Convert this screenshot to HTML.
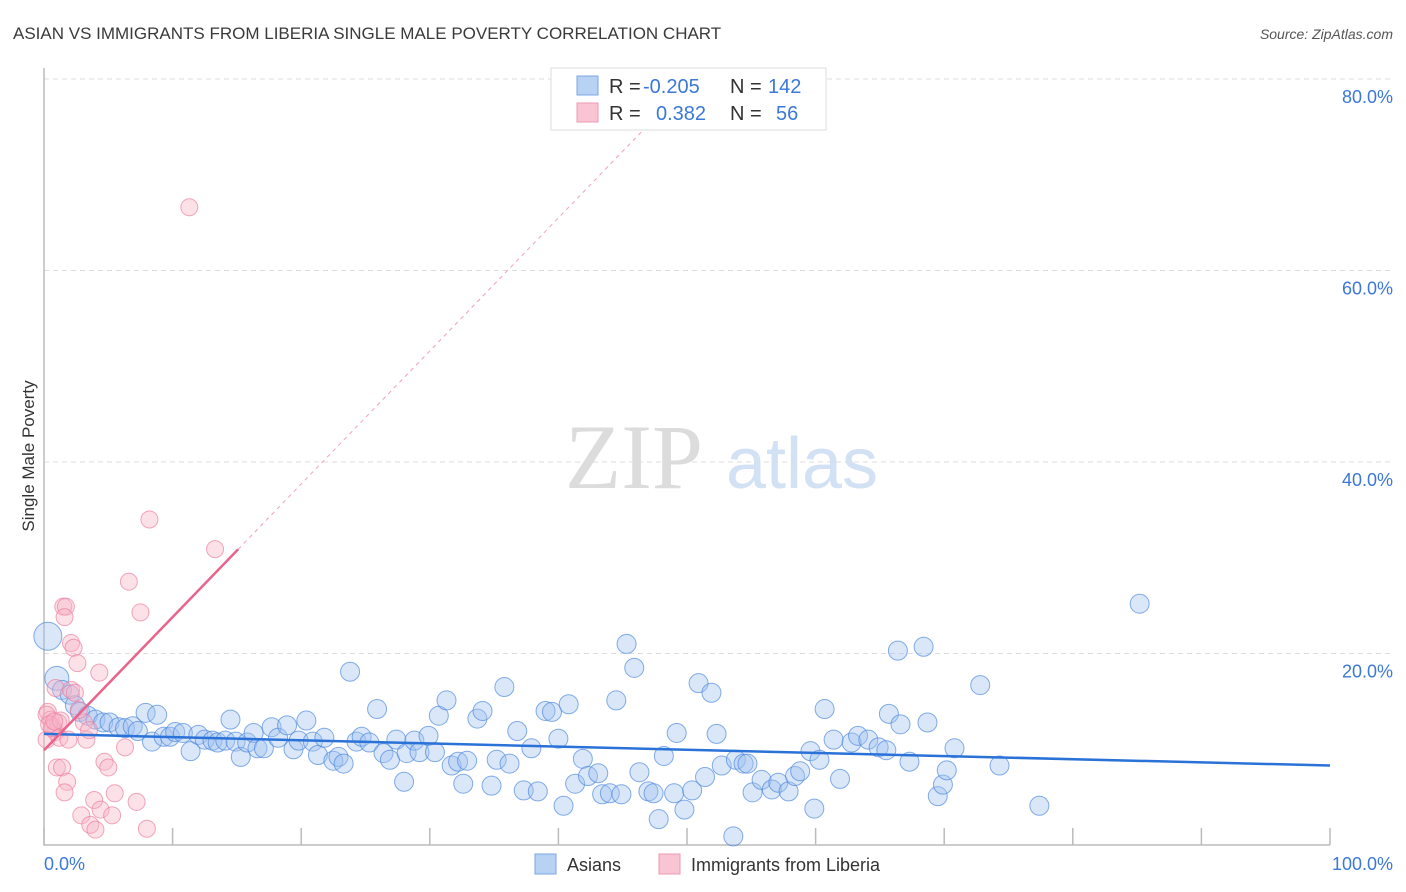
<!DOCTYPE html>
<html><head><meta charset="utf-8"><style>
body{margin:0;background:#fff;font-family:"Liberation Sans",sans-serif;}
svg{display:block}
</style></head><body>
<svg id="c" width="1406" height="892" xmlns="http://www.w3.org/2000/svg">
<text x="13" y="39" font-size="17" fill="#3a3a3a">ASIAN VS IMMIGRANTS FROM LIBERIA SINGLE MALE POVERTY CORRELATION CHART</text>
<text x="1393" y="39" font-size="14" font-style="italic" fill="#555" text-anchor="end">Source: ZipAtlas.com</text>
<g>
<text x="634" y="488" font-size="92" font-family="Liberation Serif,serif" fill="#dcdcdc" text-anchor="middle">ZIP</text>
<text x="802" y="488" font-size="72" fill="#d3e1f4" text-anchor="middle">atlas</text>
</g>
<g id="grid"></g>
<g id="axes"></g>
<g id="marks"></g>
<text transform="translate(34,456) rotate(-90)" font-size="17" fill="#333" text-anchor="middle">Single Male Poverty</text>
<g>
<rect x="551" y="68" width="275" height="62" fill="#fff" stroke="#ddd"/>
<rect x="577" y="76" width="21" height="19" fill="#b8d2f4" stroke="#7da6e6"/>
<rect x="577" y="103" width="21" height="19" fill="#f9c4d3" stroke="#ee9ab3"/>
<text font-size="20" fill="#333"><tspan x="609" y="93">R =</tspan><tspan x="609" y="120">R =</tspan><tspan x="730" y="93">N =</tspan><tspan x="730" y="120">N =</tspan></text>
<text font-size="20" fill="#3b78d8"><tspan x="643" y="93">-0.205</tspan><tspan x="656" y="120">0.382</tspan><tspan x="768" y="93">142</tspan><tspan x="776" y="120">56</tspan></text>
</g>
<g>
<rect x="535" y="854" width="21" height="20" fill="#b8d2f4" stroke="#7da6e6"/>
<text x="567" y="871" font-size="18" fill="#333">Asians</text>
<rect x="659" y="854" width="21" height="20" fill="#f9c4d3" stroke="#ee9ab3"/>
<text x="691" y="871" font-size="18" fill="#333">Immigrants from Liberia</text>
</g>
</svg>
<script>
const yTicks=[20,40,60,80];
const yTickLabels=["20.0%","40.0%","60.0%","80.0%"];
const xTicks=[0,10,20,30,40,50,60,70,80,90,100];
const asianX=[0.3,1.0,1.4,2.0,2.4,2.8,3.4,4.0,4.6,5.1,5.8,6.3,6.9,7.3,7.9,8.4,8.8,9.3,9.8,10.2,10.8,11.4,12.0,12.5,13.1,13.5,14.1,14.5,14.9,15.3,15.8,16.3,16.6,17.1,17.7,18.2,18.9,19.4,19.8,20.4,20.9,21.3,21.8,22.5,22.9,23.3,23.8,24.3,24.7,25.3,25.9,26.4,26.9,27.4,28.0,28.2,28.8,29.2,29.9,30.4,30.7,31.3,31.7,32.2,32.6,32.9,33.7,34.1,34.8,35.2,35.8,36.2,36.8,37.3,37.9,38.4,39.0,39.5,40.0,40.4,40.8,41.3,41.9,42.3,43.1,43.4,44.0,44.5,44.9,45.3,45.9,46.3,47.0,47.4,47.8,48.2,49.0,49.2,49.8,50.4,50.9,51.4,51.9,52.3,52.7,53.6,53.8,54.4,54.7,55.1,55.8,56.6,57.1,57.9,58.4,58.8,59.6,59.9,60.3,60.7,61.4,61.9,62.8,63.3,64.1,64.9,65.5,65.7,66.4,66.6,67.3,68.4,68.7,69.5,69.9,70.2,70.8,72.8,74.3,77.4,85.2];
const asianY=[21.8,17.4,16.2,15.7,14.6,13.9,13.5,13.1,12.8,12.8,12.3,12.2,12.4,11.9,13.8,10.8,13.6,11.3,11.3,11.8,11.7,9.8,11.5,11.0,10.9,10.7,10.9,13.1,10.8,9.2,10.7,11.7,10.1,10.1,12.3,11.2,12.5,10.0,10.9,13.0,10.8,9.4,11.2,8.8,9.2,8.5,18.1,10.8,11.3,10.7,14.2,9.6,8.9,11.0,6.6,9.6,10.9,9.7,11.4,9.7,13.5,15.1,8.3,8.7,6.4,8.8,13.2,14.0,6.2,8.9,16.5,8.5,11.9,5.7,10.1,5.6,14.0,13.9,11.1,4.1,14.7,6.4,9.0,7.2,7.5,5.3,5.4,15.1,5.3,21.0,18.5,7.6,5.6,5.4,2.7,9.3,5.4,11.7,3.7,5.7,16.9,7.1,15.9,11.6,8.3,0.9,8.9,8.5,8.5,5.5,6.8,5.8,6.5,5.6,7.2,7.7,9.8,3.8,8.9,14.2,11.0,6.9,10.7,11.4,11.0,10.2,9.9,13.7,20.3,12.6,8.7,20.7,12.8,5.1,6.3,7.8,10.1,16.7,8.3,4.1,25.2];
const libX=[11.3,8.2,13.3,6.6,7.5,1.5,1.7,1.6,2.1,2.3,2.6,4.3,0.9,2.1,2.4,0.3,0.5,0.7,0.9,1.1,0.2,1.2,1.9,3.3,3.1,3.5,6.3,4.7,5.0,1.0,1.4,1.8,1.6,3.9,5.5,4.4,5.3,2.9,3.6,4.0,7.2,8.0,0.2,0.6,0.4,1.3,2.7,0.8];
const libY=[66.6,34.0,30.9,27.5,24.3,24.9,24.9,23.8,21.1,20.6,19.0,18.0,16.4,16.2,15.9,13.9,13.1,12.4,11.8,12.8,11.0,11.2,11.0,11.0,12.8,12.0,10.2,8.7,8.1,8.1,8.1,6.6,5.5,4.7,5.4,3.7,3.1,3.1,2.1,1.6,4.5,1.7,13.6,12.2,12.6,13.0,14.1,12.9];
const asianTrend=[11.6,8.3];
const libTrend=[9.9,1.39];
const NS="http://www.w3.org/2000/svg";
const X=v=>44+v*12.86, Y=v=>845-v*9.575;
function mk(t,a,p){const e=document.createElementNS(NS,t);for(const k in a)e.setAttribute(k,a[k]);p.appendChild(e);return e;}
const grid=document.getElementById('grid'),axes=document.getElementById('axes'),marks=document.getElementById('marks');
yTicks.forEach((v,i)=>{
 const l=mk('line',{x1:44,x2:1393,y1:Y(v),y2:Y(v),stroke:'#ddd','stroke-dasharray':'5,4'},grid);
 
 
 const t=mk('text',{x:1393,y:Y(v)+24,'font-size':18,fill:'#3b78d8','text-anchor':'end'},axes);
 t.textContent=yTickLabels[i];
 
 
});
const ax=mk('path',{d:'M44 68V845H1330',fill:'none',stroke:'#bbb','stroke-width':1.5},axes);


xTicks.forEach(v=>{
 const t=mk('line',{x1:X(v),x2:X(v),y1:828,y2:845,stroke:'#bbb','stroke-width':1.5},axes);
 
 
});
const xl0=mk('text',{x:44,y:870,'font-size':18,fill:'#3b78d8'},axes);xl0.textContent='0.0%';


const xl1=mk('text',{x:1393,y:870,'font-size':18,fill:'#3b78d8','text-anchor':'end'},axes);xl1.textContent='100.0%';


const xEnd=(75-libTrend[0])/libTrend[1];
const pd=mk('line',{x1:X(15.1),y1:Y(libTrend[0]+libTrend[1]*15.1),x2:X(xEnd),y2:Y(75),stroke:'#f0a0b8','stroke-dasharray':'4,4'},marks);


asianX.forEach((v,i)=>{
 const r=i===0?14:(i===1?12:9.5);
 const c=mk('circle',{cx:X(v),cy:Y(asianY[i]),r:r,fill:'rgba(160,196,240,0.4)',stroke:'rgba(70,130,220,0.65)','stroke-width':1},marks);
 
 
});
libX.forEach((v,i)=>{
 const c=mk('circle',{cx:X(v),cy:Y(libY[i]),r:8.5,fill:'rgba(248,180,200,0.4)',stroke:'rgba(235,130,160,0.7)','stroke-width':1},marks);
 
 
});
const at=mk('line',{x1:X(0),y1:Y(asianTrend[0]),x2:X(100),y2:Y(asianTrend[1]),stroke:'#2a72d8','stroke-width':2.5},marks);


const lt=mk('line',{x1:X(0),y1:Y(libTrend[0]),x2:X(15.1),y2:Y(libTrend[0]+libTrend[1]*15.1),stroke:'#e8648c','stroke-width':2.5},marks);


</script>
</body></html>
